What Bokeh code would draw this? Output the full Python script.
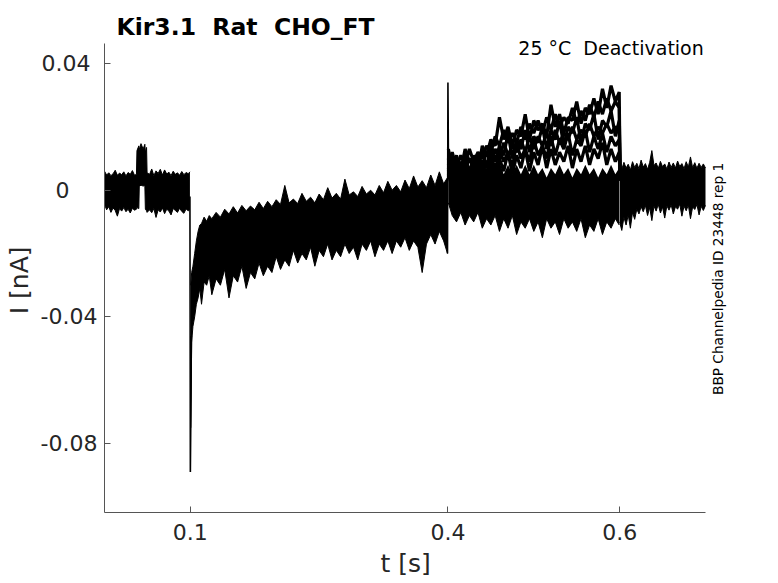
import numpy as np
from bokeh.plotting import figure
from bokeh.models import Range1d, FixedTicker, Label
from bokeh.embed import file_html
from bokeh.resources import INLINE

# ---------------- data (nA vs s) ----------------
# Pre-pulse baseline envelope with the small test step near 0.04 s
tA = [0.0000, 0.0025, 0.0050, 0.0075, 0.0100, 0.0125, 0.0150, 0.0175, 0.0200, 0.0225,
      0.0250, 0.0275, 0.0300, 0.0325, 0.0350,
      0.0372, 0.0378, 0.0400, 0.0405, 0.0425, 0.0450, 0.0470, 0.0476, 0.0490, 0.0496, 0.0525,
      0.0550, 0.0575, 0.0600, 0.0625, 0.0650, 0.0675, 0.0700, 0.0725, 0.0750, 0.0775,
      0.0800, 0.0825, 0.0850, 0.0875, 0.0900, 0.0925, 0.0950, 0.0975, 0.0995]
upA = [0.0060, 0.0048, 0.0055, 0.0046, 0.0052, 0.0063, 0.0047, 0.0054, 0.0049, 0.0058,
       0.0045, 0.0056, 0.0050, 0.0062, 0.0047,
       0.0050, 0.0125, 0.0140, 0.0128, 0.0147, 0.0130, 0.0145, 0.0120, 0.0135, 0.0055, 0.0050,
       0.0067, 0.0046, 0.0061, 0.0053, 0.0066, 0.0048, 0.0064, 0.0051, 0.0057, 0.0046,
       0.0060, 0.0050, 0.0055, 0.0047, 0.0059, 0.0049, 0.0056, 0.0052, 0.0058]
loA = [-0.0045, -0.0062, -0.0052, -0.0070, -0.0056, -0.0064, -0.0082, -0.0058, -0.0066, -0.0055,
       -0.0068, -0.0060, -0.0072, -0.0057, -0.0063,
       -0.0060, -0.0055, -0.0058, 0.0012, 0.0016, 0.0013, 0.0015, -0.0060, -0.0065, -0.0070, -0.0062,
       -0.0071, -0.0058, -0.0086, -0.0062, -0.0069, -0.0056, -0.0074, -0.0060, -0.0066, -0.0078,
       -0.0058, -0.0064, -0.0070, -0.0057, -0.0067, -0.0073, -0.0059, -0.0065, -0.0061]

# Onset spike at 0.1 s
tSpike1 = [0.0995, 0.1000, 0.1006, 0.1012]
vSpike1 = [-0.0020, -0.0890, -0.0700, -0.0460]

# Recovery phase envelope (0.1 .. 0.4 s)
tB = [0.1005, 0.1015, 0.1030, 0.1050, 0.1070, 0.1090, 0.1110, 0.1130, 0.1160, 0.1190,
      0.1220, 0.1250, 0.130, 0.135, 0.140, 0.145, 0.150, 0.155, 0.160, 0.165,
      0.170, 0.175, 0.180, 0.185, 0.190, 0.195, 0.200, 0.205, 0.210, 0.215,
      0.220, 0.225, 0.230, 0.235, 0.240, 0.245, 0.250, 0.255, 0.260, 0.265,
      0.270, 0.275, 0.280, 0.285, 0.290, 0.295, 0.300, 0.305, 0.310, 0.315,
      0.320, 0.325, 0.330, 0.335, 0.340, 0.345, 0.350, 0.355, 0.360, 0.365,
      0.370, 0.375, 0.380, 0.385, 0.390, 0.395, 0.3995]
loB = [-0.075, -0.048, -0.043, -0.040, -0.036, -0.034, -0.031, -0.036, -0.029, -0.030,
       -0.027, -0.033, -0.028, -0.030, -0.025, -0.034, -0.027, -0.029, -0.024, -0.031,
       -0.026, -0.028, -0.023, -0.027, -0.024, -0.026, -0.021, -0.025, -0.022, -0.024,
       -0.019, -0.023, -0.020, -0.022, -0.018, -0.024, -0.019, -0.021, -0.017, -0.022,
       -0.019, -0.021, -0.017, -0.020, -0.018, -0.022, -0.017, -0.019, -0.016, -0.021,
       -0.017, -0.019, -0.016, -0.020, -0.016, -0.018, -0.015, -0.019, -0.016, -0.018,
       -0.026, -0.017, -0.014, -0.017, -0.013, -0.016, -0.020]
upB = [-0.030, -0.026, -0.024, -0.020, -0.016, -0.013, -0.011, -0.0105, -0.0085, -0.0098,
       -0.0080, -0.0090, -0.0070, -0.0085, -0.0060, -0.0075, -0.0052, -0.0072, -0.0048, -0.0065,
       -0.0050, -0.0062, -0.0038, -0.0058, -0.0035, -0.0052, -0.0030, -0.0045, 0.0015, -0.0040,
       -0.0028, -0.0042, -0.0010, -0.0035, -0.0022, -0.0040, -0.0012, -0.0030, 0.0008, -0.0025,
       -0.0010, -0.0028, 0.0035, -0.0015, -0.0005, -0.0020, 0.0012, -0.0012, 0.0000, -0.0015,
       0.0015, -0.0008, 0.0028, 0.0000, 0.0015, -0.0005, 0.0032, 0.0005, 0.0045, 0.0010,
       0.0030, 0.0008, 0.0048, 0.0015, 0.0058, 0.0020, 0.0040]

# Step-back spike at 0.4 s
tSpike2 = [0.3995, 0.4000, 0.4006]
vSpike2 = [-0.0200, 0.0340, 0.0090]

# Test-pulse phase (0.4 .. 0.6 s): dense band + separating sweeps
tC = [0.4005, 0.405, 0.410, 0.415, 0.420, 0.425, 0.430, 0.435, 0.440, 0.445,
      0.450, 0.455, 0.460, 0.465, 0.470, 0.475, 0.480, 0.485, 0.490, 0.495,
      0.500, 0.505, 0.510, 0.515, 0.520, 0.525, 0.530, 0.535, 0.540, 0.545,
      0.550, 0.555, 0.560, 0.565, 0.570, 0.575, 0.580, 0.585, 0.590, 0.595, 0.5995]
loC = [-0.004, -0.008, -0.010, -0.007, -0.011, -0.008, -0.010, -0.007, -0.012, -0.009,
       -0.011, -0.008, -0.013, -0.009, -0.012, -0.008, -0.014, -0.010, -0.012, -0.009,
       -0.013, -0.010, -0.015, -0.009, -0.012, -0.010, -0.014, -0.009, -0.012, -0.010,
       -0.013, -0.009, -0.015, -0.011, -0.013, -0.009, -0.014, -0.010, -0.012, -0.009, -0.011]
upC = [0.011, 0.008, 0.011, 0.007, 0.010, 0.007, 0.010, 0.006, 0.009, 0.006,
       0.009, 0.006, 0.009, 0.005, 0.008, 0.005, 0.008, 0.005, 0.008, 0.005,
       0.008, 0.005, 0.007, 0.004, 0.007, 0.005, 0.008, 0.005, 0.007, 0.004,
       0.007, 0.005, 0.008, 0.005, 0.007, 0.004, 0.007, 0.005, 0.008, 0.005, 0.007]

tS = tC + [0.6005]
sweep1 = [0.013, 0.007, 0.011, 0.006, 0.013, 0.009, 0.010, 0.006, 0.014, 0.011,
          0.016, 0.014, 0.023, 0.016, 0.020, 0.014, 0.019, 0.017, 0.024, 0.016,
          0.022, 0.019, 0.021, 0.017, 0.027, 0.020, 0.024, 0.018, 0.023, 0.022,
          0.028, 0.021, 0.026, 0.024, 0.029, 0.024, 0.032, 0.026, 0.033, 0.028, 0.031, 0.004]
sweep1b = [0.008, 0.012, 0.007, 0.011, 0.008, 0.013, 0.009, 0.012, 0.010, 0.014,
           0.012, 0.017, 0.014, 0.019, 0.015, 0.018, 0.015, 0.020, 0.016, 0.021,
           0.018, 0.022, 0.018, 0.023, 0.019, 0.024, 0.020, 0.023, 0.021, 0.026,
           0.021, 0.025, 0.022, 0.027, 0.023, 0.028, 0.024, 0.029, 0.025, 0.028, 0.026, 0.004]
sweep2 = [0.010, 0.004, 0.009, 0.006, 0.012, 0.005, 0.011, 0.008, 0.012, 0.007,
          0.015, 0.009, 0.014, 0.011, 0.018, 0.010, 0.016, 0.013, 0.019, 0.012,
          0.017, 0.015, 0.020, 0.013, 0.019, 0.016, 0.022, 0.014, 0.020, 0.018,
          0.023, 0.015, 0.021, 0.019, 0.024, 0.016, 0.022, 0.020, 0.025, 0.017, 0.022, 0.004]
sweep2b = [0.006, 0.010, 0.005, 0.009, 0.006, 0.010, 0.007, 0.011, 0.008, 0.012,
           0.009, 0.013, 0.010, 0.015, 0.011, 0.014, 0.012, 0.016, 0.012, 0.017,
           0.013, 0.017, 0.014, 0.018, 0.014, 0.019, 0.015, 0.018, 0.016, 0.020,
           0.016, 0.019, 0.017, 0.021, 0.017, 0.020, 0.018, 0.021, 0.018, 0.020, 0.019, 0.004]
sweep3 = [0.007, 0.002, 0.009, 0.004, 0.008, 0.003, 0.011, 0.005, 0.009, 0.007,
          0.012, 0.006, 0.013, 0.009, 0.012, 0.007, 0.015, 0.010, 0.013, 0.009,
          0.016, 0.011, 0.014, 0.010, 0.017, 0.011, 0.016, 0.013, 0.018, 0.011,
          0.016, 0.014, 0.019, 0.012, 0.017, 0.013, 0.018, 0.012, 0.017, 0.014, 0.016, 0.003]
sweep4 = [0.005, 0.001, 0.007, 0.003, 0.008, 0.002, 0.009, 0.004, 0.008, 0.005,
          0.011, 0.004, 0.010, 0.006, 0.012, 0.005, 0.011, 0.007, 0.013, 0.006,
          0.012, 0.008, 0.014, 0.007, 0.013, 0.008, 0.012, 0.009, 0.014, 0.007,
          0.013, 0.009, 0.014, 0.008, 0.013, 0.010, 0.015, 0.008, 0.013, 0.009, 0.012, 0.003]

# Tail after the test pulse (0.6 .. 0.7 s)
tD = [0.6000, 0.6025, 0.6050, 0.6075, 0.6100, 0.6125, 0.6150, 0.6175, 0.6200, 0.6225,
      0.6250, 0.6275, 0.6300, 0.6325, 0.6350, 0.6375, 0.6400, 0.6425, 0.6450, 0.6475,
      0.6500, 0.6525, 0.6550, 0.6575, 0.6600, 0.6625, 0.6650, 0.6675, 0.6700, 0.6725,
      0.6750, 0.6775, 0.6800, 0.6825, 0.6850, 0.6875, 0.6900, 0.6925, 0.6950, 0.6975, 0.7000]
upD = [0.0080, 0.0066, 0.0088, 0.0070, 0.0082, 0.0064, 0.0090, 0.0072, 0.0085, 0.0068,
       0.0095, 0.0073, 0.0084, 0.0066, 0.0088, 0.0125, 0.0078, 0.0086, 0.0069, 0.0091,
       0.0074, 0.0083, 0.0067, 0.0089, 0.0072, 0.0086, 0.0070, 0.0092, 0.0075, 0.0084,
       0.0068, 0.0090, 0.0073, 0.0105, 0.0071, 0.0087, 0.0069, 0.0085, 0.0072, 0.0083, 0.0070]
loD = [-0.0100, -0.0127, -0.0085, -0.0110, -0.0078, -0.0120, -0.0070, -0.0092, -0.0060, -0.0075,
       -0.0052, -0.0068, -0.0048, -0.0080, -0.0055, -0.0096, -0.0050, -0.0066, -0.0045, -0.0072,
       -0.0053, -0.0088, -0.0049, -0.0063, -0.0046, -0.0075, -0.0052, -0.0060, -0.0044, -0.0082,
       -0.0050, -0.0065, -0.0047, -0.0090, -0.0053, -0.0061, -0.0045, -0.0078, -0.0051, -0.0064, -0.0048]

x_ticks = [0.1, 0.4, 0.6]
x_tick_labels = ["0.1", "0.4", "0.6"]
y_ticks = [0.04, 0.0, -0.04, -0.08]
y_tick_labels = ["0.04", "0", "-0.04", "-0.08"]

NB = "\u00a0"
title_text = "Kir3.1" + NB * 2 + "Rat" + NB * 2 + "CHO_FT"
subtitle_text = "25 °C" + NB * 2 + "Deactivation"
side_text = "BBP Channelpedia ID 23448 rep 1"
x_label = "t [s]"
y_label = "I [nA]"

# ---------------- figure ----------------
FONT = "DejaVu Sans"
AX = "#555555"
TXT = "#262626"

X_LO, X_HI = 0.0, 0.7          # axis extent
Y_LO, Y_HI = -0.10175, 0.0463  # axis extent

p = figure(width=770, height=583, output_backend="svg", toolbar_location=None,
           x_range=Range1d(0.0, 0.7757), y_range=Range1d(-0.10175, 0.05989),
           min_border_left=104, min_border_right=0, min_border_top=0,
           min_border_bottom=71)
p.title.visible = False
p.grid.visible = False
p.outline_line_color = None
p.background_fill_color = "white"
p.border_fill_color = "white"

ink = "black"
p.varea(x=tA, y1=loA, y2=upA, fill_color=ink)
p.line(tA, upA, line_color=ink, line_width=1)
p.line(tA, loA, line_color=ink, line_width=1)
p.line(tSpike1, vSpike1, line_color=ink, line_width=1.6)
p.varea(x=tB, y1=loB, y2=upB, fill_color=ink)
p.line(tB, upB, line_color=ink, line_width=1)
p.line(tB, loB, line_color=ink, line_width=1)
p.line(tSpike2, vSpike2, line_color=ink, line_width=1.6)
p.varea(x=tC, y1=loC, y2=upC, fill_color=ink)
p.line(tC, loC, line_color=ink, line_width=1)
for sw in (sweep4, sweep3, sweep2b, sweep2, sweep1b, sweep1):
    p.line(tS, sw, line_color=ink, line_width=3.2)
p.varea(x=tD, y1=loD, y2=upD, fill_color=ink)
p.line(tD, upD, line_color=ink, line_width=1)
p.line(tD, loD, line_color=ink, line_width=1)

# axes
for ax in (p.xaxis, p.yaxis):
    ax.axis_line_color = AX
    ax.major_tick_line_color = AX
    ax.minor_tick_line_color = None
    ax.major_tick_in = 6
    ax.major_tick_out = 0
    ax.major_label_text_font = FONT
    ax.major_label_text_color = TXT
    ax.major_label_text_font_size = "22px"
    ax.axis_label_text_font = FONT
    ax.axis_label_text_font_size = "25px"
    ax.axis_label_text_font_style = "normal"
    ax.axis_label_text_color = TXT

p.xaxis.bounds = (X_LO, X_HI)
p.xaxis.ticker = FixedTicker(ticks=x_ticks)
p.xaxis.major_label_overrides = dict(zip(x_ticks, x_tick_labels))
p.xaxis.major_label_standoff = 11
# the label is centred on the whole drawing frame; pad it so it sits under the axis
p.xaxis.axis_label = x_label + NB * 8
p.xaxis.axis_label_standoff = 6

p.yaxis.bounds = (Y_LO, Y_HI)
p.yaxis.ticker = FixedTicker(ticks=y_ticks)
y_pads = {"0.04": NB, "0": NB * 4, "-0.04": "", "-0.08": ""}
p.yaxis.major_label_overrides = {v: s + y_pads[s] for v, s in zip(y_ticks, y_tick_labels)}
p.yaxis.major_label_standoff = 7
p.yaxis.axis_label = y_label + NB * 6
p.yaxis.axis_label_standoff = 4

# titles and side note (inside the drawing frame)
p.add_layout(Label(x=0.0140, y=0.0515, text=title_text, text_font=FONT,
                   text_font_size="23.5px", text_font_style="bold", text_color="black",
                   text_align="left", text_baseline="alphabetic"))
p.add_layout(Label(x=0.698, y=0.0450, text=subtitle_text, text_font=FONT,
                   text_font_size="19px", text_color="black",
                   text_align="right", text_baseline="alphabetic"))
p.add_layout(Label(x=0.7145, y=-0.0280, text=side_text, angle=np.pi / 2, text_font=FONT,
                   text_font_size="13.7px", text_color="black",
                   text_align="center", text_baseline="middle"))

open("out.html", "w").write(file_html(p, INLINE))
